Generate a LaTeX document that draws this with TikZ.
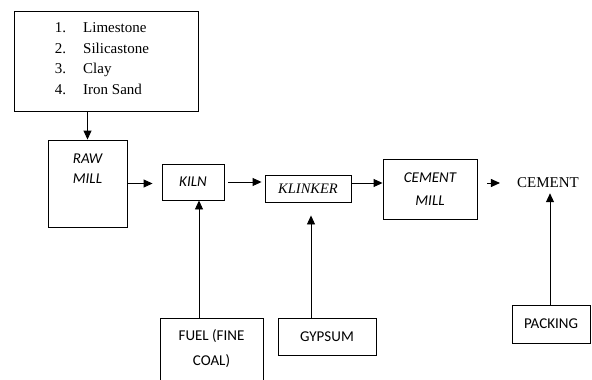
\documentclass[tikz,border=0pt]{standalone}
\usepackage{fontspec}
\setmainfont{Liberation Serif}
\newfontfamily\calibri{Carlito}
\usetikzlibrary{arrows.meta}

\begin{document}
\begin{tikzpicture}[x=1pt, y=-1pt,
	caja/.style={draw, line width=0.9pt, inner sep=0pt},
	txt/.style={font=\calibri\fontsize{15}{20}\selectfont, align=center, inner sep=0pt},
	itxt/.style={font=\calibri\itshape\fontsize{15}{20}\selectfont, align=center, inner sep=0pt},
	flecha/.style={line width=0.9pt, -{Triangle[length=9pt,width=8pt]}}]

\useasboundingbox (0,0) rectangle (592,380);

% Materias primas
\node[caja, minimum width=184pt, minimum height=100pt,
	label={[inner sep=0pt, xshift=-4pt, yshift=1.5pt, font=\fontsize{15}{20.5}\selectfont]center:{%
	\begin{tabular}{@{}l@{\hspace{17pt}}l@{}}
	1. & Limestone\\
	2. & Silicastone\\
	3. & Clay\\
	4. & Iron Sand
	\end{tabular}}}] (src) at (106,61) {};

% Linea de proceso
\node[caja, minimum width=79pt, minimum height=87pt,
	label={[itxt, anchor=north, yshift=-14pt]north:{RAW\\MILL}}] (rawmill) at (87.5,183.5) {};
\node[caja, itxt, minimum width=62pt, minimum height=36pt] (kiln) at (193,182) {KILN};
\node[caja, minimum width=86pt, minimum height=27pt, font=\rmfamily\itshape\fontsize{14.5}{18}\selectfont] (klinker) at (308,188.5) {KLINKER};
\node[caja, itxt, minimum width=94pt, minimum height=60pt] (cmill) at (430,189) {CEMENT\\[3pt]MILL};
\node[inner sep=0pt, font=\fontsize{15}{18}\selectfont] (cement) at (548,183) {CEMENT};

% Entradas de abajo
\node[caja, minimum width=103pt, minimum height=80pt,
	label={[txt, anchor=north, yshift=-12pt]north:{FUEL (FINE\\[5pt]COAL)}}] (fuel) at (211.5,358) {};
\node[caja, txt, minimum width=98pt, minimum height=37pt] (gypsum) at (327,336.5) {GYPSUM};
\node[caja, txt, minimum width=78pt, minimum height=38pt] (packing) at (551,324) {PACKING};

% Flechas
\draw[flecha] (src.south -| rawmill.north) -- (rawmill.north);
\draw[flecha, shorten >=9pt] (rawmill.east) -- (rawmill.east -| kiln.west);
\draw[flecha, shorten <=4pt, shorten >=3pt] (kiln.east) -- (kiln.east -| klinker.west);
\draw[flecha] ([yshift=5.5pt]klinker.east) -- ([yshift=5.5pt]klinker.east -| cmill.west);
\draw[flecha, shorten <=10pt, shorten >=17pt] (cement.west -| cmill.east) -- (cement.west);
\draw[flecha] ([xshift=6pt]kiln.south |- fuel.north) -- ([xshift=6pt]kiln.south);
\draw[flecha, shorten >=13pt] ([xshift=3pt]klinker.south |- gypsum.north) -- ([xshift=3pt]klinker.south);
\draw[flecha, shorten >=5pt] ([xshift=2pt]cement.south |- packing.north) -- ([xshift=2pt]cement.south);
\end{tikzpicture}
\end{document}
